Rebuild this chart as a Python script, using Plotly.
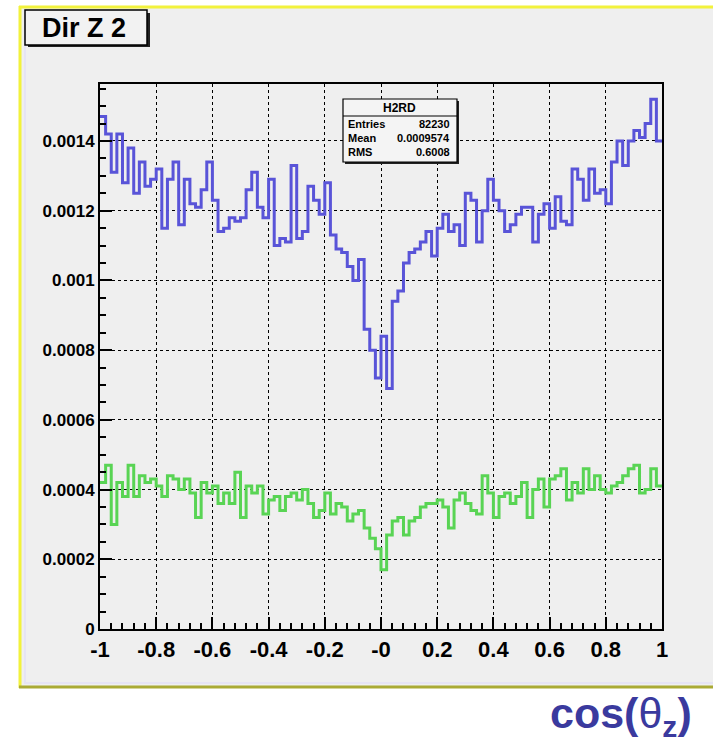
import numpy as np
import plotly.graph_objects as go

# ---------------- data ----------------
x_min, x_max, n_bins = -1.0, 1.0, 100

# bin contents in units of 1e-4
blue_vals = [
    14.7, 14.2, 13.1, 14.2, 12.8, 13.8, 12.5, 13.4, 12.7, 12.9,
    13.2, 11.5, 12.9, 13.4, 11.6, 12.9, 12.2, 12.1, 12.6, 13.4,
    12.3, 11.4, 11.5, 11.8, 11.7, 11.8, 12.6, 13.1, 12.1, 11.8,
    12.9, 11.0, 11.2, 11.1, 13.3, 11.2, 11.4, 12.7, 12.3, 11.9,
    12.8, 11.3, 10.9, 10.8, 10.4, 10.0, 10.6, 8.6, 8.0, 7.2,
    8.4, 6.9, 9.4, 9.7, 10.5, 10.8, 10.9, 11.1, 11.4, 10.7,
    11.5, 11.9, 11.4, 11.6, 11.0, 12.5, 12.3, 11.1, 12.0, 12.9,
    12.3, 12.0, 11.4, 11.6, 11.9, 12.1, 12.1, 11.1, 11.9, 12.2,
    11.5, 12.4, 11.7, 11.6, 13.2, 12.9, 12.3, 13.2, 12.5, 12.6,
    12.2, 13.4, 14.0, 13.3, 14.0, 14.3, 14.1, 14.5, 15.2, 14.0,
]
green_vals = [
    4.2, 4.7, 3.0, 4.2, 3.8, 4.7, 3.8, 4.4, 4.2, 4.3,
    4.1, 3.8, 4.4, 4.3, 4.0, 4.3, 3.9, 3.2, 4.2, 3.9,
    4.1, 3.6, 3.9, 3.6, 4.5, 3.2, 4.1, 3.9, 4.1, 3.3,
    3.7, 3.8, 3.4, 3.8, 3.9, 3.7, 4.0, 3.6, 3.2, 3.4,
    3.9, 3.3, 3.6, 3.5, 3.1, 3.3, 3.4, 2.9, 2.6, 2.3,
    1.7, 2.7, 3.1, 3.2, 2.7, 3.1, 3.2, 3.5, 3.6, 3.6,
    3.7, 3.5, 2.9, 3.7, 3.9, 3.6, 3.4, 3.3, 4.4, 3.9,
    3.2, 3.8, 3.9, 3.6, 3.8, 4.2, 3.2, 4.0, 4.3, 3.5,
    4.3, 4.4, 4.6, 3.7, 4.2, 3.9, 4.6, 4.0, 4.4, 4.0,
    3.9, 4.1, 4.2, 4.4, 4.6, 4.7, 3.9, 4.0, 4.6, 4.1,
]
value_scale = 1e-4

x_tickvals = [-1, -0.8, -0.6, -0.4, -0.2, 0, 0.2, 0.4, 0.6, 0.8, 1]
x_ticktext = ["-1", "-0.8", "-0.6", "-0.4", "-0.2", "-0", "0.2", "0.4", "0.6", "0.8", "1"]
y_tickvals = [0, 0.0002, 0.0004, 0.0006, 0.0008, 0.001, 0.0012, 0.0014]
y_ticktext = ["0", "0.0002", "0.0004", "0.0006", "0.0008", "0.001", "0.0012", "0.0014"]
y_max = 0.0015635

title_text = "Dir Z 2"
stats_name = "H2RD"
stats_rows = [("Entries", "82230"), ("Mean", "0.0009574"), ("RMS", "0.6008")]

# ---------------- layout helpers ----------------
W, H = 713, 748
L, R, T, B = 100, 662, 84, 629


def px(xp):
    return (xp - L) / (R - L)


def py(yp):
    return (B - yp) / (B - T)


edges = np.linspace(x_min, x_max, n_bins + 1)


def step(vals):
    v = [val * value_scale for val in vals]
    return list(edges), v + [v[-1]]


FONT = "Liberation Sans, Arial, sans-serif"
BLUE = "#5954d8"
GREEN = "#59d454"

fig = go.Figure()
bx, by = step(blue_vals)
gx, gy = step(green_vals)
fig.add_trace(go.Scatter(x=bx, y=by, mode="lines", line=dict(shape="hv", color=BLUE, width=3),
                         showlegend=False, hoverinfo="skip"))
fig.add_trace(go.Scatter(x=gx, y=gy, mode="lines", line=dict(shape="hv", color=GREEN, width=3),
                         showlegend=False, hoverinfo="skip"))

shapes = []
# pad background + borders
shapes.append(dict(type="rect", xref="paper", yref="paper", x0=px(20), x1=px(720), y0=py(687), y1=py(7),
                   fillcolor="#efefef", line=dict(width=0), layer="below"))
shapes.append(dict(type="line", xref="paper", yref="paper", x0=px(19), x1=px(720), y0=py(7), y1=py(7),
                   line=dict(color="#f2f23c", width=3), layer="below"))
shapes.append(dict(type="line", xref="paper", yref="paper", x0=px(20), x1=px(20), y0=py(688), y1=py(6),
                   line=dict(color="#f2f23c", width=3), layer="below"))
shapes.append(dict(type="line", xref="paper", yref="paper", x0=px(19), x1=px(720), y0=py(687), y1=py(687),
                   line=dict(color="#aaaa36", width=3), layer="below"))
shapes.append(dict(type="line", xref="paper", yref="paper", x0=px(24), x1=px(720), y0=py(683), y1=py(683),
                   line=dict(color="#e6e4f4", width=2), layer="below"))
shapes.append(dict(type="line", xref="paper", yref="paper", x0=px(25), x1=px(25), y0=py(683), y1=py(11),
                   line=dict(color="#e6e4f4", width=2), layer="below"))
# title box with shadow
shapes.append(dict(type="rect", xref="paper", yref="paper", x0=px(28), x1=px(150), y0=py(47), y1=py(13),
                   fillcolor="#222222", line=dict(width=0)))
shapes.append(dict(type="rect", xref="paper", yref="paper", x0=px(25), x1=px(147), y0=py(45), y1=py(10),
                   fillcolor="#f2f2f2", line=dict(color="black", width=1.5)))
# stats box
shapes.append(dict(type="rect", xref="paper", yref="paper", x0=px(345), x1=px(459), y0=py(164), y1=py(101),
                   fillcolor="#222222", line=dict(width=0)))
shapes.append(dict(type="rect", xref="paper", yref="paper", x0=px(343), x1=px(457), y0=py(162), y1=py(99),
                   fillcolor="#f4f4f4", line=dict(color="black", width=1.2)))
shapes.append(dict(type="line", xref="paper", yref="paper", x0=px(343), x1=px(457), y0=py(116), y1=py(116),
                   line=dict(color="black", width=1)))

annotations = []
annotations.append(dict(xref="paper", yref="paper", x=px(84), y=py(28), text="<b>" + title_text + "</b>",
                        showarrow=False, font=dict(family=FONT, size=27, color="black"),
                        xanchor="center", yanchor="middle"))
annotations.append(dict(xref="paper", yref="paper", x=px(400), y=py(108), text="<b>" + stats_name + "</b>",
                        showarrow=False, font=dict(family=FONT, size=12, color="black"),
                        xanchor="center", yanchor="middle"))
row_y = [124, 138, 152]
for (k, v), yy in zip(stats_rows, row_y):
    annotations.append(dict(xref="paper", yref="paper", x=px(346), y=py(yy), text="<b>" + k + "</b>",
                            showarrow=False, font=dict(family=FONT, size=11, color="black"),
                            xanchor="left", yanchor="middle"))
    annotations.append(dict(xref="paper", yref="paper", x=px(452), y=py(yy), text="<b>" + v + "</b>",
                            showarrow=False, font=dict(family=FONT, size=11, color="black"),
                            xanchor="right", yanchor="middle"))
annotations.append(dict(xref="paper", yref="paper", x=px(694), y=py(716),
                        text="<b>cos(</b>θ<sub><b>z</b></sub><b>)</b>",
                        showarrow=False, font=dict(family=FONT, size=43, color="#3a3a9e"),
                        xanchor="right", yanchor="middle"))

fig.update_layout(
    width=W, height=H,
    margin=dict(l=L, r=W - R, t=T, b=H - B, pad=0),
    paper_bgcolor="white",
    plot_bgcolor="#efefef",
    shapes=shapes,
    annotations=annotations,
    showlegend=False,
    xaxis=dict(
        range=[x_min, x_max], tickvals=x_tickvals, ticktext=x_ticktext,
        ticks="inside", ticklen=12, tickwidth=1.5, tickcolor="black",
        minor=dict(dtick=0.04, tick0=-1, ticks="inside", ticklen=6, tickcolor="black", showgrid=False),
        showgrid=True, gridcolor="black", griddash="dot", gridwidth=1,
        showline=True, linecolor="black", linewidth=2, mirror=True,
        zeroline=False,
        tickfont=dict(family=FONT, size=22, color="black", weight="bold"),
    ),
    yaxis=dict(
        range=[0, y_max], tickvals=y_tickvals, ticktext=y_ticktext,
        ticks="inside", ticklen=12, tickwidth=1.5, tickcolor="black",
        minor=dict(dtick=0.00005, tick0=0, ticks="inside", ticklen=6, tickcolor="black", showgrid=False),
        showgrid=True, gridcolor="black", griddash="dot", gridwidth=1,
        showline=True, linecolor="black", linewidth=2, mirror=True,
        zeroline=False,
        tickfont=dict(family=FONT, size=17, color="black", weight="bold"),
    ),
)

fig.write_html("out.html")
